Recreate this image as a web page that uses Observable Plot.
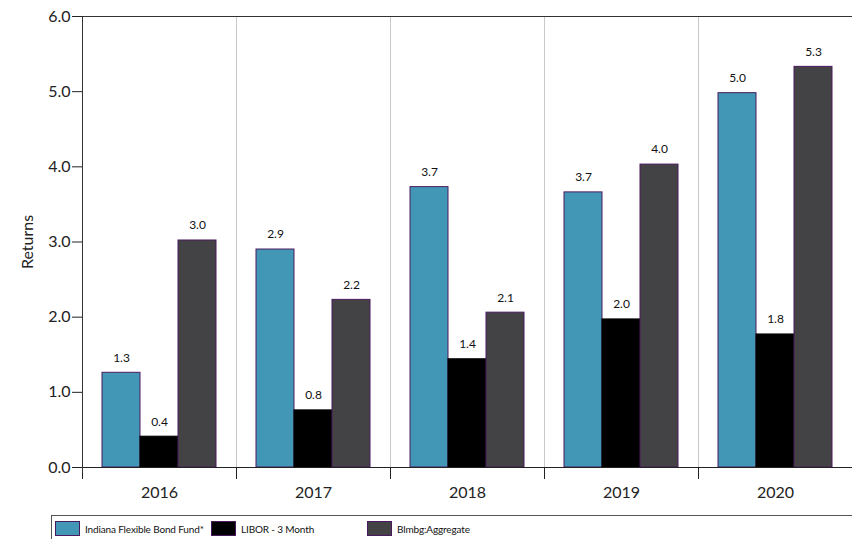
<!DOCTYPE html>
<html>
<head>
<meta charset="utf-8">
<script src="https://cdn.jsdelivr.net/npm/d3@7"></script>
<script src="https://cdn.jsdelivr.net/npm/@observablehq/plot@0.6"></script>
<style>
  html, body { margin: 0; padding: 0; background: #fff; }
  #wrap { position: relative; width: 852px; height: 539px; overflow: hidden; font-family: Lato, "DejaVu Sans", sans-serif; }
  #legend { position: absolute; left: 51px; top: 515px; width: 810px; height: 30px; border: 1px solid #555; box-sizing: border-box; }
  .item { position: absolute; top: 5px; display: flex; align-items: center; font-size: 10px; letter-spacing: -0.15px; color: #111; white-space: nowrap; }
  .sw { width: 25px; height: 15px; border: 1px solid #4b1a5e; margin-right: 5px; box-sizing: border-box; flex: none; }
</style>
</head>
<body>
<div id="wrap">
  <div id="chart"></div>
  <div id="legend"></div>
</div>
<script>
const years = ["2016", "2017", "2018", "2019", "2020"];
const series = ["Indiana Flexible Bond Fund*", "LIBOR - 3 Month", "Blmbg:Aggregate"];
const fundValues = [1.26, 2.90, 3.73, 3.66, 4.98];
const liborValues = [0.41, 0.76, 1.44, 1.97, 1.77];
const aggValues = [3.02, 2.23, 2.06, 4.03, 5.33];
const yTicks = [0, 1, 2, 3, 4, 5, 6];
const colors = ["#4397b6", "#000000", "#434345"];
const legendX = [3, 159, 315];

const seriesValues = [fundValues, liborValues, aggValues];
const data = [];
years.forEach((year, i) => {
  series.forEach((s, j) => data.push({year, series: s, value: seriesValues[j][i]}));
});

const chart = Plot.plot({
  width: 852,
  height: 510,
  marginLeft: 82,
  marginRight: 0,
  marginTop: 16,
  marginBottom: 43,
  style: {fontFamily: "Lato, 'DejaVu Sans', sans-serif", color: "#222", background: "white"},
  fx: {domain: years, padding: 0, label: null},
  x: {domain: series, paddingInner: 0, paddingOuter: 0.5, axis: null},
  y: {domain: [0, 6], label: "Returns"},
  color: {domain: series, range: colors},
  marks: [
    Plot.frame({anchor: "left", stroke: "#c8c8c8"}),
    Plot.ruleY([6], {stroke: "#333"}),
    Plot.barY(data, {fx: "year", x: "series", y: "value", fill: "series", stroke: d => d.series === series[1] ? "#000" : "#4b1a5e", strokeWidth: 1}),
    Plot.text(data, {fx: "year", x: "series", y: "value", text: d => d.value.toFixed(1), dy: -15, fontSize: 12, fill: "#111"}),
    Plot.ruleY([0], {stroke: "#222"}),
    Plot.frame({anchor: "left", stroke: "#222", insetTop: 451, insetBottom: -11}),
    Plot.frame({anchor: "left", facet: "super", stroke: "#333", insetBottom: -4}),
    Plot.axisY({ticks: yTicks, tickFormat: d => d.toFixed(1), tickSize: 10, tickPadding: 2, fontSize: 16, label: "Returns", labelAnchor: "center", labelArrow: "none", labelOffset: 61}),
    Plot.axisFx({anchor: "bottom", tickSize: 0, tickPadding: 19, fontSize: 16, label: null})
  ]
});
document.getElementById("chart").appendChild(chart);

const legend = document.getElementById("legend");
series.forEach((s, i) => {
  const item = document.createElement("div");
  item.className = "item";
  item.style.left = legendX[i] + "px";
  const sw = document.createElement("div");
  sw.className = "sw";
  sw.style.background = colors[i];
  const t = document.createElement("span");
  t.textContent = s;
  item.appendChild(sw);
  item.appendChild(t);
  legend.appendChild(item);
});
</script>
</body>
</html>
